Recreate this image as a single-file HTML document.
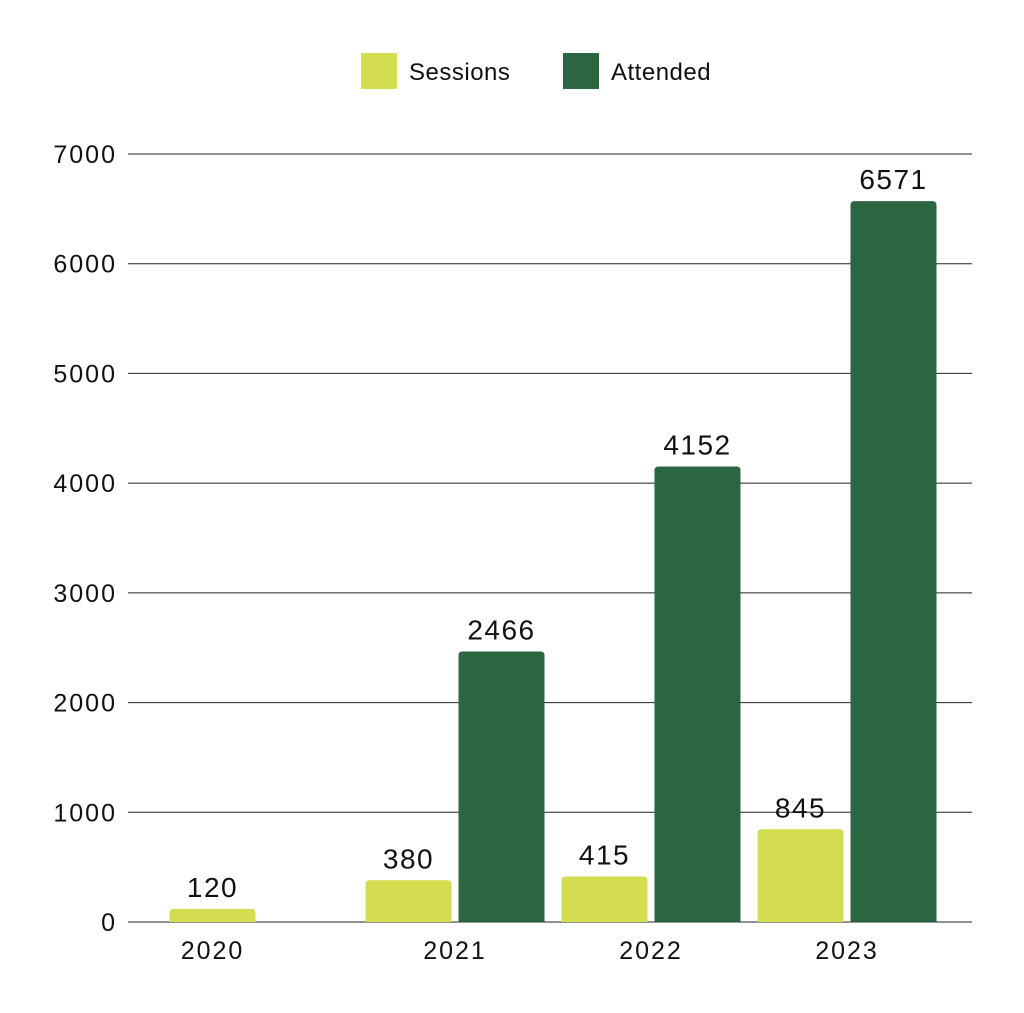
<!DOCTYPE html>
<html><head><meta charset="utf-8"><style>
body{margin:0;background:#fff;}
svg{display:block;font-family:"Liberation Sans","DejaVu Sans",sans-serif;}
</style></head><body>
<svg id="chart" width="1024" height="1013">
<g>
<rect x="361" y="53" width="36" height="36" fill="#d4dc4f"/>
<text x="409" y="80" font-size="24" letter-spacing="0.5" fill="#111">Sessions</text>
<rect x="563" y="53" width="36" height="36" fill="#2b6640"/>
<text x="611" y="80" font-size="24" letter-spacing="0.5" fill="#111">Attended</text>
</g>
<g id="grid"></g><g id="bars"></g><g id="labels"></g>
</svg>
<script>
const categories=["2020","2021","2022","2023"];
const sessions=[120,380,415,845];
const attended=[null,2466,4152,6571];
const yTicks=[0,1000,2000,3000,4000,5000,6000,7000];
const NS="http://www.w3.org/2000/svg";
const x0=128,x1=972,y0=922,yTop=154,yMax=7000;
function y(v){return y0-(v/yMax)*(y0-yTop);}
function cx(i){return 259+i*196;}
const bw=86,gap=7;
function mk(t,a,p){const e=document.createElementNS(NS,t);for(const k in a)e.setAttribute(k,a[k]);p.appendChild(e);return e;}
const grid=document.getElementById('grid'),bars=document.getElementById('bars'),labels=document.getElementById('labels');
yTicks.forEach(t=>{
 const l=mk('line',{x1:x0,x2:x1,y1:y(t),y2:y(t),stroke:'#222','stroke-width':1},grid);
 
 
 const tx=mk('text',{x:117,y:y(t)+9,'text-anchor':'end','font-size':25,'letter-spacing':2,fill:'#111'},grid);
 tx.textContent=t;
 
 
});
function bar(xl,v,color,name){
 const top=y(v),r=4;
 const d=`M${xl},${y0}V${top+r}Q${xl},${top} ${xl+r},${top}H${xl+bw-r}Q${xl+bw},${top} ${xl+bw},${top+r}V${y0}Z`;
 const p=mk('path',{d:d,fill:color},bars);
 
 
 const t=mk('text',{x:xl+bw/2,y:top-12,'text-anchor':'middle','font-size':28,'letter-spacing':1.5,fill:'#111'},labels);
 t.textContent=v;
 
 
}
categories.forEach((c,i)=>{
 const c0=cx(i);
 const sx=c0-gap/2-bw, ax=c0+gap/2;
 if(sessions[i]!=null) bar(sx,sessions[i],'#d4dc4f','bar-sessions-'+c);
 if(attended[i]!=null) bar(ax,attended[i],'#2b6640','bar-attended-'+c);
 const lx=attended[i]==null?sx+bw/2:c0;
 const t=mk('text',{x:lx,y:959,'text-anchor':'middle','font-size':25,'letter-spacing':2,fill:'#111'},labels);
 t.textContent=c;
 
 
});
</script>
</body></html>
